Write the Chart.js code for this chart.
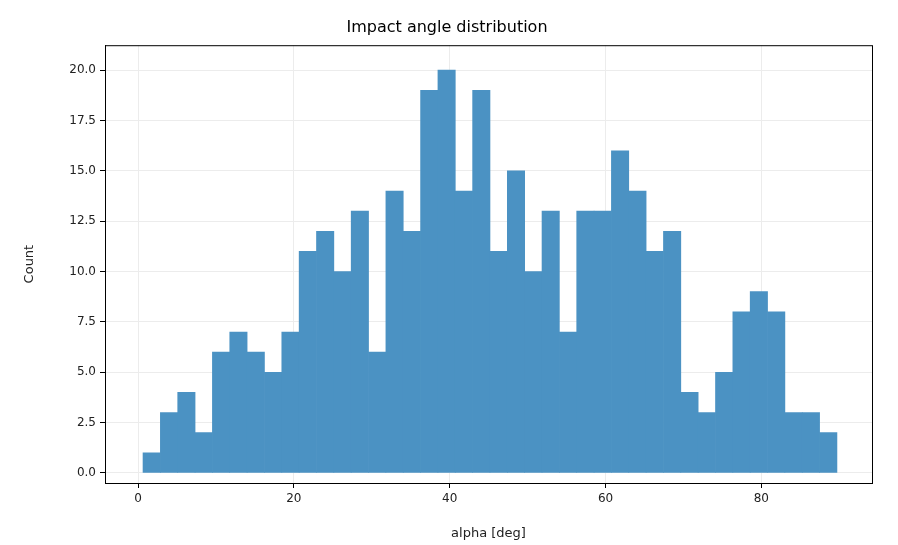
<!DOCTYPE html>
<html>
<head>
<meta charset="utf-8">
<script src="https://cdn.jsdelivr.net/npm/chart.js@4"></script>
<style>
  html, body { margin: 0; padding: 0; background: #fff; }
  #wrap { width: 898px; height: 545px; }
</style>
</head>
<body>
<div id="wrap"><canvas id="hist"></canvas></div>
<script>
const binStart = 0.64;
const binWidth = 2.2265;
const counts = [1, 3, 4, 2, 6, 7, 6, 5, 7, 11, 12, 10, 13, 6, 14, 12, 19, 20, 14, 19,
  11, 15, 10, 13, 7, 13, 13, 16, 14, 11, 12, 4, 3, 5, 8, 9, 8, 3, 3, 2];
const xTicks = [0, 20, 40, 60, 80];
const yTicks = [0, 2.5, 5, 7.5, 10, 12.5, 15, 17.5, 20];

const points = counts.map((c, i) => ({ x: binStart + binWidth * (i + 0.5), y: c }));

const frame = {
  id: "frame",
  afterDraw(chart) {
    const { ctx, chartArea: a } = chart;
    ctx.save();
    ctx.strokeStyle = "#000";
    ctx.lineWidth = 1;
    ctx.strokeRect(a.left + 0.5, a.top + 0.5, a.right - a.left, a.bottom - a.top);
    ctx.restore();
  }
};

const keep = (list) => (scale) => { scale.ticks = list.map((v) => ({ value: v })); };

new Chart(document.getElementById("hist"), {
  type: "bar",
  data: {
    datasets: [{
      data: points,
      backgroundColor: "rgb(75,146,195)",
      borderWidth: 0,
      barPercentage: 1,
      categoryPercentage: 1,
      grouped: false
    }]
  },
  options: {
    responsive: true,
    maintainAspectRatio: false,
    animation: false,
    layout: { padding: { top: 2, right: 26, left: 22, bottom: 0 } },
    plugins: {
      legend: { display: false },
      tooltip: { enabled: false },
      title: {
        display: true,
        text: "Impact angle distribution",
        color: "#000",
        font: { family: "DejaVu Sans", size: 16, weight: "normal" },
        padding: { top: 16, bottom: 8 }
      }
    },
    scales: {
      x: {
        type: "linear",
        min: -4.24,
        max: 94.2,
        offset: false,
        afterBuildTicks: keep(xTicks),
        afterFit: (s) => { s.height = 62; },
        grid: { offset: false, color: "#ececec", tickColor: "#000", tickLength: 5 },
        border: { color: "#000" },
        ticks: { color: "#222", font: { family: "DejaVu Sans", size: 12 }, padding: 4, maxRotation: 0 },
        title: { display: true, text: "alpha [deg]", color: "#222", font: { family: "DejaVu Sans", size: 13 }, padding: { top: 4 } }
      },
      y: {
        min: -0.5,
        max: 21.24,
        afterBuildTicks: keep(yTicks),
        afterFit: (s) => { s.width = 83; },
        grid: { color: "#ececec", tickColor: "#000", tickLength: 5 },
        border: { color: "#000" },
        ticks: { color: "#222", font: { family: "DejaVu Sans", size: 12 }, padding: 4, callback: (v) => v.toFixed(1) },
        title: { display: true, text: "Count", color: "#222", font: { family: "DejaVu Sans", size: 13 }, padding: 0 }
      }
    }
  },
  plugins: [frame]
});
</script>
</body>
</html>
